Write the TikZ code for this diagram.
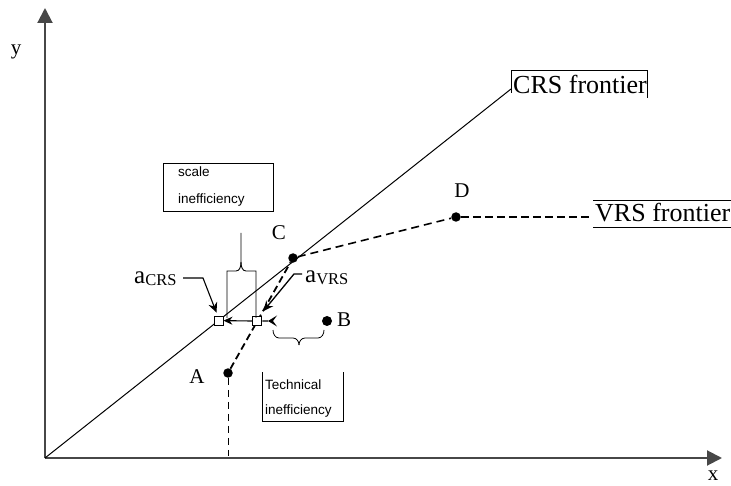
\documentclass[tikz,border=0pt]{standalone}
\usepackage{fontspec}
\setmainfont{Liberation Serif}
\newfontfamily\lsans{Liberation Sans}
\usetikzlibrary{arrows.meta,calc}
\begin{document}
\begin{tikzpicture}[x=1pt,y=-1pt,
  axis/.style={line width=2pt, draw=black!72, -{Triangle[length=15pt,width=15pt]}},
  dotnode/.style={circle, fill=black, inner sep=0pt, minimum size=9.5pt},
  sqnode/.style={draw=black, fill=white, inner sep=0pt, minimum size=9pt, line width=0.9pt},
  lbl/.style={font=\fontsize{21}{21}\selectfont, inner sep=0pt},
  bigtxt/.style={font=\fontsize{26}{26}\selectfont, inner sep=0pt},
  smalltxt/.style={font=\lsans\fontsize{13.5}{13.5}\selectfont, inner sep=0pt, anchor=base west},
  sublbl/.style={anchor=base west, inner sep=0pt},
  vrs/.style={line width=1.8pt, dash pattern=on 7pt off 4pt},
  thin/.style={line width=0.9pt}]
\useasboundingbox (0,0) rectangle (731,486);
% axes
\coordinate (O) at (45,458);
\coordinate (ytop) at (45,8);
\coordinate (xend) at (722,458);
\draw[axis] (O) -- (ytop);
\draw[axis] (O) -- (xend);
\node[lbl] (ylab) at (16,52) {y};
\node[lbl] (xlab) at (713,476) {x};
% CRS frontier
\coordinate (crsend) at (511,89);
\draw[line width=1pt] (O) -- (crsend);
\node[bigtxt] (crslab) at (580,84) {CRS frontier};
\draw[thin] (511,93) -- (511,70) -- (647,70) -- (647,98);
% points
\node[dotnode] (A) at (228,373) {};
\node[dotnode] (C) at (293,258) {};
\node[dotnode] (D) at (456,217) {};
\node[circle, fill=black, inner sep=0pt, minimum size=10pt] (B) at (327,321) {};
\node[lbl] (Alab) at (197,377) {A};
\node[lbl] (Blab) at (344,320) {B};
\node[lbl] (Clab) at (279,233) {C};
\node[lbl] (Dlab) at (462,191) {D};
% VRS frontier
\coordinate (vrsend) at (592,217);
\draw[vrs] (A) -- (C);
\draw[line width=1.6pt, dash pattern=on 8pt off 5pt] (C) -- (D);
\draw[line width=1.2pt, dash pattern=on 8pt off 4pt] (D) -- (vrsend);
\node[bigtxt, anchor=base west] (vrslab) at (595,222) {VRS frontier};
\draw[thin] (593,200) -- (731,200);
\draw[thin] (593,227) -- (731,227);
% vertical dashed from A
\coordinate (Afoot) at (228,456);
\draw[line width=0.8pt, dash pattern=on 7pt off 5pt] (A) -- (Afoot);
% projection squares
\node[sqnode] (aCRS) at ($(O)!0.3723!(crsend)$) {};
\node[sqnode] (aVRS) at ($(A)!0.452!(C)$) {};
\draw[line width=1.1pt, -{Stealth[length=9pt,width=8pt]}] (aVRS.west) -- (aCRS.east);
\coordinate (barb) at (268,321);
\draw[line width=1.1pt] (aVRS.east) -- (barb);
\fill (barb) -- (277,315.5) -- (273,321) -- (277,326.5) -- cycle;
% labels a_CRS, a_VRS
\node[sublbl] (acrslab) at (134,284) {{\fontsize{25}{25}\selectfont a}\raisebox{-1.5pt}{\fontsize{16.5}{16.5}\selectfont CRS}};
\node[sublbl] (avrslab) at (305,283) {{\fontsize{25}{25}\selectfont a}\raisebox{-2pt}{\fontsize{16.5}{16.5}\selectfont VRS}};
\coordinate (acrsbend) at (203,278);
\coordinate (acrsstart) at (183,278);
\draw[line width=1.1pt, -{Stealth[length=10pt,width=9pt]}] (acrsstart) -- (acrsbend) -- ($(aCRS.north)+(-2,-3)$);
\coordinate (avrsstart) at (302,274);
\coordinate (avrsbend) at (294,274);
\draw[line width=1.3pt, -{Stealth[length=10pt,width=9pt]}] (avrsstart) -- (avrsbend) -- ($(aVRS.north)+(6,-5)$);
% scale inefficiency brace
\draw[line width=0.9pt] (227,318) -- (227,271) -- (236,271) to[out=0,in=-90] (241,262) -- (241,233);
\draw[line width=0.9pt] (241,262) to[out=-90,in=180] (246,271) -- (256,271) -- (256,318);
% scale inefficiency box
\draw[thin] (163,163) rectangle (273,211);
\node[smalltxt] (sc1) at (178,177) {scale};
\node[smalltxt] (sc2) at (178,204) {inefficiency};
% technical inefficiency brace
\draw[line width=0.8pt] (273,330) to[out=-90,in=180] (279,338) -- (293,338) to[out=0,in=90] (299,345);
\draw[line width=0.8pt] (299,345) to[out=90,in=180] (305,338) -- (318,338) to[out=0,in=-90] (324,330);
% technical inefficiency box
\draw[thin] (262,372) -- (262,421) -- (343,421) -- (343,372);
\node[smalltxt] (t1) at (265,389) {Technical};
\node[smalltxt] (t2) at (265,414) {inefficiency};
\end{tikzpicture}
\end{document}
